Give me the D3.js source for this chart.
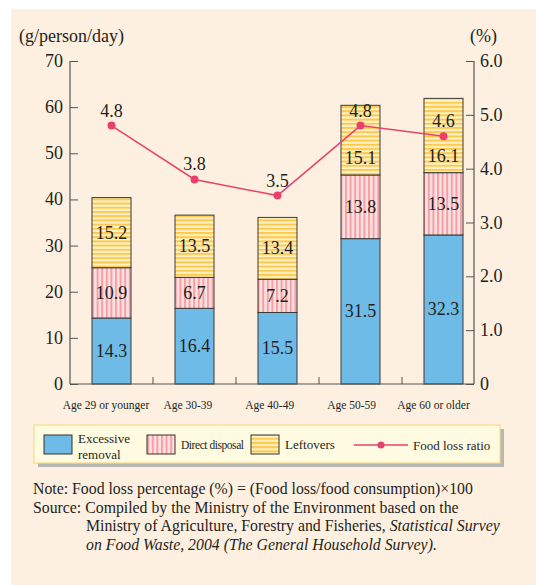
<!DOCTYPE html>
<html>
<head>
<meta charset="utf-8">
<script src="https://cdn.jsdelivr.net/npm/d3@7"></script>
<style>
  body { margin: 0; background: #fff; }
  svg text { font-family: "Liberation Serif", "DejaVu Serif", serif; fill: #231f20; }
</style>
</head>
<body>
<svg id="chart" width="536" height="585"></svg>
<script>
// data
var ageGroups = ["Age 29 or younger", "Age 30-39", "Age 40-49", "Age 50-59", "Age 60 or older"];
var excessiveRemoval = [14.3, 16.4, 15.5, 31.5, 32.3];
var directDisposal = [10.9, 6.7, 7.2, 13.8, 13.5];
var leftovers = [15.2, 13.5, 13.4, 15.1, 16.1];
var lossRatio = [4.8, 3.8, 3.5, 4.8, 4.6];
var leftTicks = [0, 10, 20, 30, 40, 50, 60, 70];
var rightTicks = [0, 1, 2, 3, 4, 5, 6];

var svg = d3.select("#chart");

// background panel
svg.append("rect").attr("x", 11).attr("y", 9).attr("width", 525).attr("height", 576).attr("fill", "#fdf0e1");

// patterns
var defs = svg.append("defs");
var pink = defs.append("pattern").attr("id", "pinkStripe").attr("patternUnits", "userSpaceOnUse")
    .attr("width", 4.6).attr("height", 10);
pink.append("rect").attr("width", 4.6).attr("height", 10).attr("fill", "#fde1e1");
pink.append("rect").attr("width", 2).attr("height", 10).attr("fill", "#f3a0a6");

var yel = defs.append("pattern").attr("id", "yelStripe").attr("patternUnits", "userSpaceOnUse")
    .attr("width", 10).attr("height", 4.2).attr("y", 1);
yel.append("rect").attr("width", 10).attr("height", 4.2).attr("fill", "#fef1c6");
yel.append("rect").attr("width", 10).attr("height", 2).attr("fill", "#fcc94e");

var plotTop = 61, plotBottom = 384, plotLeft = 70, plotRight = 474;

var x = d3.scaleBand().domain(ageGroups).range([70, 485]).paddingInner(0.53).paddingOuter(0.265);
var xLabel = d3.scalePoint().domain(ageGroups).range([106, 433.5]);
var y = d3.scaleLinear().domain([0, 70]).range([plotBottom, plotTop]);
var yr = d3.scaleLinear().domain([0, 6]).range([plotBottom, plotTop]);
var cx = function(g) { return x(g) + x.bandwidth() / 2; };

// stack
var rows = ageGroups.map(function(g, i) {
  return {group: g, excessive: excessiveRemoval[i], direct: directDisposal[i], left: leftovers[i], ratio: lossRatio[i]};
});
var keys = ["excessive", "direct", "left"];
var fills = {excessive: "#6ebbe8", direct: "url(#pinkStripe)", left: "url(#yelStripe)"};
var series = d3.stack().keys(keys)(rows);

var layer = svg.append("g").selectAll("g").data(series).enter().append("g");
layer.selectAll("rect").data(function(d) { return d.map(function(v) { v.key = d.key; return v; }); })
  .enter().append("rect")
    .attr("x", function(d) { return x(d.data.group); })
    .attr("width", x.bandwidth())
    .attr("y", function(d) { return y(d[1]); })
    .attr("height", function(d) { return y(d[0]) - y(d[1]); })
    .attr("fill", function(d) { return fills[d.key]; })
    .attr("stroke", "#3a3a3a").attr("stroke-width", 1);

// segment labels; push down when the ratio label sits inside the segment
layer.selectAll("text").data(function(d) { return d; })
  .enter().append("text")
    .attr("x", function(d) { return cx(d.data.group); })
    .attr("y", function(d) {
      var mid = (y(d[0]) + y(d[1])) / 2 + 6;
      var ratioY = yr(d.data.ratio);
      if (ratioY > y(d[1]) && ratioY < y(d[0])) return y(d[0]) - 11;
      return mid;
    })
    .attr("text-anchor", "middle").attr("font-size", 18)
    .text(function(d) { return (d[1] - d[0]).toFixed(1); });

// left axis
var axL = svg.append("g").attr("transform", "translate(" + plotLeft + ",0)")
  .call(d3.axisRight(y).tickValues(leftTicks).tickSize(8).tickFormat(""));
axL.select(".domain").remove();
axL.selectAll("line").attr("stroke", "#555");
svg.append("line").attr("x1", plotLeft).attr("x2", plotLeft).attr("y1", plotTop).attr("y2", plotBottom).attr("stroke", "#555").attr("stroke-width", 1.2);
svg.selectAll(".lt").data(leftTicks).enter().append("text")
  .attr("x", 63).attr("y", function(d) { return y(d) + 6; })
  .attr("text-anchor", "end").attr("font-size", 18).text(function(d) { return d; });

// right axis
var axR = svg.append("g").attr("transform", "translate(" + plotRight + ",0)")
  .call(d3.axisLeft(yr).tickValues(rightTicks).tickSize(8).tickFormat(""));
axR.select(".domain").remove();
axR.selectAll("line").attr("stroke", "#555");
svg.append("line").attr("x1", plotRight).attr("x2", plotRight).attr("y1", plotTop).attr("y2", plotBottom).attr("stroke", "#555").attr("stroke-width", 1.2);
svg.selectAll(".rt").data(rightTicks).enter().append("text")
  .attr("x", 480).attr("y", function(d) { return yr(d) + 6; })
  .attr("font-size", 18).text(function(d) { return d === 0 ? "0" : d.toFixed(1); });

// bottom axis with separators
svg.append("line").attr("x1", plotLeft).attr("x2", plotRight).attr("y1", plotBottom).attr("y2", plotBottom).attr("stroke", "#555").attr("stroke-width", 1.2);
svg.selectAll(".sep").data(ageGroups.slice(1)).enter().append("line")
  .attr("x1", function(d) { return x(d) - x.step() * x.paddingInner() / 2; })
  .attr("x2", function(d) { return x(d) - x.step() * x.paddingInner() / 2; })
  .attr("y1", plotBottom).attr("y2", plotBottom - 7).attr("stroke", "#555");
svg.selectAll(".xl").data(ageGroups).enter().append("text")
  .attr("x", function(d) { return xLabel(d); })
  .attr("y", 409).attr("text-anchor", "middle").attr("font-size", 11.5)
  .text(function(d) { return d; });

// axis titles
svg.append("text").attr("x", 19).attr("y", 42).attr("font-size", 18).text("(g/person/day)");
svg.append("text").attr("x", 470).attr("y", 42).attr("font-size", 18).text("(%)");

// ratio line
var line = d3.line()
  .x(function(d, i) { return cx(ageGroups[i]); })
  .y(function(d) { return yr(d); });
svg.append("path").datum(lossRatio).attr("d", line).attr("fill", "none").attr("stroke", "#e8426c").attr("stroke-width", 1.5);
svg.selectAll(".dot").data(lossRatio).enter().append("circle")
  .attr("cx", function(d, i) { return cx(ageGroups[i]); })
  .attr("cy", function(d) { return yr(d); })
  .attr("r", 4).attr("fill", "#e8426c");
svg.selectAll(".rl").data(lossRatio).enter().append("text")
  .attr("x", function(d, i) { return cx(ageGroups[i]); })
  .attr("y", function(d) { return yr(d) - 9; })
  .attr("text-anchor", "middle").attr("font-size", 18)
  .text(function(d) { return d.toFixed(1); });

// legend
var lg = svg.append("g");
lg.append("rect").attr("x", 38).attr("y", 429).attr("width", 466).attr("height", 38).attr("fill", "#b5b8b3");
lg.append("rect").attr("x", 34).attr("y", 425).attr("width", 466).attr("height", 38)
  .attr("fill", "#fffbe1").attr("stroke", "#fcd98a").attr("stroke-width", 1.2);
var swatches = [
  {x: 44, fill: "#6ebbe8"},
  {x: 147, fill: "url(#pinkStripe)"},
  {x: 251, fill: "url(#yelStripe)"}
];
lg.selectAll(".sw").data(swatches).enter().append("rect")
  .attr("x", function(d) { return d.x; }).attr("y", 435).attr("width", 28).attr("height", 19)
  .attr("fill", function(d) { return d.fill; }).attr("stroke", "#333");
lg.append("text").attr("x", 78).attr("y", 443).attr("font-size", 13).text("Excessive");
lg.append("text").attr("x", 78).attr("y", 459).attr("font-size", 13).text("removal");
lg.append("text").attr("x", 181).attr("y", 449).attr("font-size", 11.5).attr("textLength", 63).text("Direct disposal");
lg.append("text").attr("x", 285).attr("y", 449).attr("font-size", 13).text("Leftovers");
lg.append("line").attr("x1", 354).attr("x2", 408).attr("y1", 445).attr("y2", 445).attr("stroke", "#e8426c").attr("stroke-width", 1.5);
lg.append("circle").attr("cx", 381).attr("cy", 445).attr("r", 3.5).attr("fill", "#e8426c");
lg.append("text").attr("x", 413).attr("y", 450).attr("font-size", 13).text("Food loss ratio");

// notes
var notes = svg.append("g").attr("font-size", 15.8);
notes.append("text").attr("x", 33).attr("y", 494).text("Note: Food loss percentage (%) = (Food loss/food consumption)\u00d7100");
notes.append("text").attr("x", 33).attr("y", 512.5).text("Source: Compiled by the Ministry of the Environment based on the");
var n3 = notes.append("text").attr("x", 86).attr("y", 531);
n3.append("tspan").text("Ministry of Agriculture, Forestry and Fisheries, ");
n3.append("tspan").attr("font-style", "italic").text("Statistical Survey");
notes.append("text").attr("x", 86).attr("y", 549.5).attr("font-style", "italic")
  .text("on Food Waste, 2004 (The General Household Survey).");
</script>
</body>
</html>
